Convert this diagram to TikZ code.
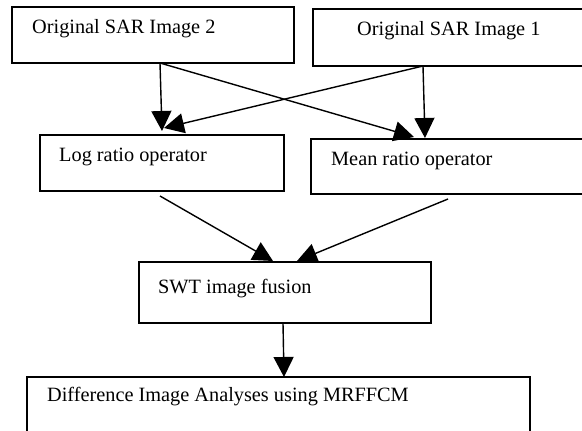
\documentclass[tikz,border=0pt]{standalone}
\usepackage{fontspec}
\setmainfont{Liberation Serif}
\usetikzlibrary{arrows.meta}
\begin{document}
\begin{tikzpicture}[x=1pt,y=-1pt,
  box/.style={draw,line width=1.4pt,inner sep=0pt,minimum width=#1},
  lbl/.style={anchor=base west,inner sep=0pt,font=\fontsize{20.3}{24}\selectfont},
  arr/.style={line width=1.4pt,-{Triangle[length=20pt,width=20pt]}}]
\useasboundingbox (0,0) rectangle (582,431);
\clip (0,0) rectangle (582,431);
\node[box=282pt,minimum height=56pt] (sar2) at (153,35) {};
\node[box=279pt,minimum height=57pt] (sar1) at (452.5,37.5) {};
\node[box=244pt,minimum height=56pt] (log) at (162,163) {};
\node[box=281pt,minimum height=55pt] (mean) at (451.5,166.5) {};
\node[box=292pt,minimum height=61pt] (swt) at (285,292.5) {};
\node[box=503pt,minimum height=68pt] (diff) at (278.5,411) {};
\node[lbl] (t2) at (32,34) {Original SAR Image 2};
\node[lbl] (t1) at (357,35) {Original SAR Image 1};
\node[lbl] (tl) at (59,161) {Log ratio operator};
\node[lbl] (tm) at (331,165) {Mean ratio operator};
\node[lbl] (ts) at (158,293) {SWT image fusion};
\node[lbl] (td) at (47,401) {Difference Image Analyses using MRFFCM};
\coordinate (s2) at (160,63);
\coordinate (s1) at (423,66);
\coordinate (l1) at (162,131);
\coordinate (l2) at (164,128);
\coordinate (m1) at (414,137);
\coordinate (m2) at (425,138);
\coordinate (lo) at (160,196);
\coordinate (mo) at (448,199);
\coordinate (w1) at (273,261);
\coordinate (w2) at (297,261);
\coordinate (so) at (283,323);
\coordinate (di) at (284,377);
\draw[arr] (s2) -- (l1);
\draw[arr] (s2) -- (m1);
\draw[arr] (s1) -- (m2);
\draw[arr] (s1) -- (l2);
\draw[arr] (lo) -- (w1);
\draw[arr] (mo) -- (w2);
\draw[arr] (so) -- (di);
\end{tikzpicture}
\end{document}
